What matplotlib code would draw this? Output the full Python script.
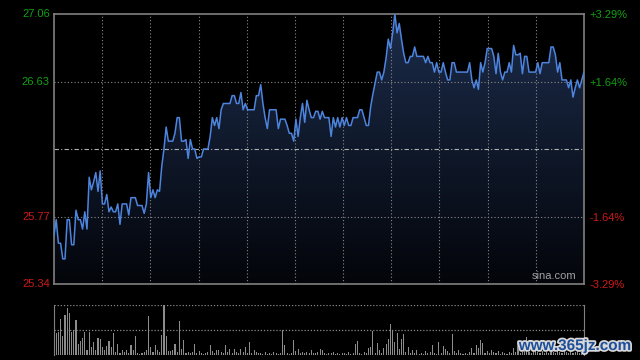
import matplotlib
matplotlib.use("Agg")
import matplotlib.pyplot as plt
import numpy as np
import matplotlib.patheffects as pe
from matplotlib.colors import LinearSegmentedColormap

plt.rcParams['font.family'] = ['Liberation Sans', 'DejaVu Sans']

prev_close = 26.20
y_ticks = [25.34, 25.77, 26.63, 27.06]
y_tick_labels = ["25.34", "25.77", "26.63", "27.06"]
pct_labels = ["-3.29%", "-1.64%", "+1.64%", "+3.29%"]

prices = [
    25.65, 25.75, 25.60, 25.60, 25.50, 25.50, 25.75, 25.75, 25.59, 25.59,
    25.81, 25.75, 25.75, 25.69, 25.80, 25.69, 26.02, 25.94, 25.99, 26.05,
    25.93, 26.06, 25.85, 25.85, 25.91, 25.80, 25.83, 25.80, 25.80, 25.85,
    25.72, 25.85, 25.85, 25.85, 25.78, 25.89, 25.89, 25.89, 25.84, 25.84,
    25.84, 25.79, 25.85, 26.05, 25.89, 25.94, 25.89, 25.94, 25.93, 26.09,
    26.20, 26.34, 26.25, 26.25, 26.25, 26.30, 26.40, 26.40, 26.25, 26.25,
    26.26, 26.14, 26.26, 26.20, 26.20, 26.14, 26.15, 26.15, 26.20, 26.20,
    26.20, 26.28, 26.40, 26.35, 26.40, 26.33, 26.45, 26.49, 26.49, 26.49,
    26.49, 26.54, 26.54, 26.49, 26.49, 26.56, 26.45, 26.49, 26.45, 26.45,
    26.45, 26.45, 26.54, 26.54, 26.61, 26.49, 26.40, 26.33, 26.45, 26.45,
    26.45, 26.45, 26.33, 26.39, 26.39, 26.39, 26.35, 26.30, 26.30, 26.25,
    26.39, 26.28, 26.40, 26.49, 26.37, 26.51, 26.45, 26.40, 26.40, 26.44,
    26.44, 26.39, 26.44, 26.40, 26.40, 26.40, 26.28, 26.40, 26.34, 26.40,
    26.34, 26.40, 26.35, 26.40, 26.35, 26.35, 26.40, 26.40, 26.40, 26.45,
    26.45, 26.40, 26.35, 26.35, 26.47, 26.55, 26.62, 26.69, 26.69, 26.64,
    26.69, 26.78, 26.90, 26.84, 26.94, 27.06, 26.94, 27.00, 26.90, 26.81,
    26.75, 26.75, 26.79, 26.79, 26.85, 26.79, 26.79, 26.79, 26.79, 26.75,
    26.79, 26.75, 26.75, 26.69, 26.75, 26.69, 26.69, 26.75, 26.69, 26.64,
    26.64, 26.75, 26.75, 26.69, 26.69, 26.69, 26.69, 26.69, 26.69, 26.75,
    26.64, 26.59, 26.64, 26.58, 26.75, 26.69, 26.75, 26.84, 26.84, 26.84,
    26.79, 26.68, 26.81, 26.69, 26.64, 26.69, 26.69, 26.75, 26.69, 26.86,
    26.80, 26.80, 26.81, 26.68, 26.79, 26.79, 26.69, 26.69, 26.69, 26.69,
    26.75, 26.68, 26.75, 26.75, 26.75, 26.75, 26.85, 26.85, 26.80, 26.69,
    26.75, 26.64, 26.64, 26.64, 26.59, 26.64, 26.53, 26.59, 26.64, 26.59,
    26.64, 26.69,
]

volumes = [
    50, 22, 23, 36, 19, 40, 47, 42, 23, 25, 35, 11, 14, 17, 23, 5, 23, 8, 13, 5,
    17, 16, 8, 5, 9, 14, 8, 22, 3, 11, 2, 5, 3, 5, 2, 10, 5, 19, 2, 1,
    2, 3, 5, 39, 8, 3, 10, 5, 3, 20, 50, 19, 4, 4, 5, 11, 3, 34, 6, 15,
    2, 3, 2, 3, 11, 2, 4, 2, 1, 2, 3, 10, 4, 2, 5, 5, 3, 2, 10, 3,
    6, 2, 6, 3, 2, 6, 3, 8, 2, 13, 2, 5, 3, 2, 2, 1, 3, 1, 2, 1,
    3, 2, 1, 2, 25, 10, 2, 1, 2, 15, 4, 6, 2, 3, 2, 3, 2, 5, 2, 2,
    3, 6, 5, 2, 1, 2, 2, 3, 1, 2, 1, 2, 2, 1, 3, 1, 2, 11, 14, 2,
    1, 3, 2, 7, 8, 24, 2, 12, 5, 2, 7, 11, 16, 31, 25, 13, 22, 6, 16, 21,
    3, 8, 2, 5, 2, 5, 1, 2, 1, 4, 2, 3, 10, 2, 1, 13, 2, 9, 6, 4,
    2, 21, 4, 2, 5, 2, 1, 2, 1, 3, 7, 2, 10, 7, 15, 12, 2, 4, 2, 5,
    3, 2, 4, 1, 3, 2, 1, 3, 2, 7, 3, 12, 2, 3, 4, 18, 3, 2, 5, 14,
    3, 2, 4, 2, 3, 2, 5, 3, 2, 4, 3, 2, 6, 3, 2, 4, 2, 3, 5, 2,
    3, 4,
]

minutes = np.arange(len(prices))
x_grid = np.linspace(0, len(prices) - 1, 12)[1:-1]

bg = '#000000'
border = '#808080'
grid_c = '#8a8a8a'
green = '#12a012'
red = '#d01818'

fig = plt.figure(figsize=(6.4, 3.6), dpi=100, facecolor=bg)
ax = fig.add_axes([54/640, 1-284/360, 530/640, 270/360], facecolor=bg)
ymin, ymax = y_ticks[0], y_ticks[-1]
ax.set_xlim(0, len(prices) - 1)
ax.set_ylim(ymin, ymax)

# gradient fill under the line
cmap = LinearSegmentedColormap.from_list('g', ['#03050a', '#1c2c4b'])
grad = np.linspace(0, 1, 256).reshape(-1, 1)
im = ax.imshow(grad, extent=[0, len(prices) - 1, ymin, ymax], origin='lower',
               aspect='auto', cmap=cmap, zorder=1)
poly = ax.fill_between(minutes, prices, ymin, facecolor='none', edgecolor='none')
path = poly.get_paths()[0]
im.set_clip_path(path, transform=ax.transData)

for xv in x_grid:
    ax.axvline(xv, color=grid_c, lw=0.8, ls=(0, (1, 2)), zorder=2)
for yv in [y_ticks[1], y_ticks[2]]:
    ax.axhline(yv, color=grid_c, lw=0.8, ls=(0, (1, 2)), zorder=2)
ax.axhline(prev_close, color='#b0b0b0', lw=0.8, ls=(0, (4, 2, 1, 2)), zorder=2)

ax.plot(minutes, prices, color='#4d84de', lw=1.1, zorder=3)

for s in ax.spines.values():
    s.set_color(border)
    s.set_linewidth(1.2)
ax.set_xticks([])
ax.set_yticks(y_ticks)
ax.set_yticklabels(y_tick_labels)
ax.tick_params(axis='y', length=0, pad=3, labelsize=8)
for lbl, c in zip(ax.get_yticklabels(), [red, red, green, green]):
    lbl.set_color(c)
    lbl.set_va('center')

ax2 = ax.twinx()
ax2.set_ylim(ymin, ymax)
ax2.set_yticks(y_ticks)
ax2.set_yticklabels(pct_labels)
ax2.tick_params(axis='y', length=0, pad=4, labelsize=8)
for lbl, c in zip(ax2.get_yticklabels(), [red, red, green, green]):
    lbl.set_color(c)
for s in ax2.spines.values():
    s.set_visible(False)

ax.text(0.985, 0.012, 'sina.com', transform=ax.transAxes, ha='right', va='bottom',
        color='#a0a0a0', fontsize=8, zorder=4)

# volume panel
axv = fig.add_axes([54/640, 1-355/360, 530/640, 50/360], facecolor=bg)
axv.set_xlim(0, len(prices) - 1)
axv.set_ylim(0, 50)
axv.bar(minutes, volumes, width=0.5, color='#8c8c8c', zorder=2)
axv.axhline(50, color=grid_c, lw=0.9, ls=(0, (1, 1.5)), zorder=1)
axv.axhline(25, color=grid_c, lw=0.9, ls=(0, (1, 1.5)), zorder=1)
axv.axhline(0, color=grid_c, lw=0.9, ls=(0, (1, 1.5)), zorder=1)
axv.spines['top'].set_visible(False)
axv.spines['bottom'].set_visible(False)
axv.spines['left'].set_color(border)
axv.spines['right'].set_color(border)
axv.set_xticks([])
axv.set_yticks([])

fig.text(575/640, 1-346/360, 'www.365jz.com', ha='center', va='center',
         color='#1d4f9a', fontsize=11, fontweight='bold',
         path_effects=[pe.withStroke(linewidth=2.5, foreground='#d8d8d8')])

fig.savefig('out.png', dpi=100, facecolor=bg)
